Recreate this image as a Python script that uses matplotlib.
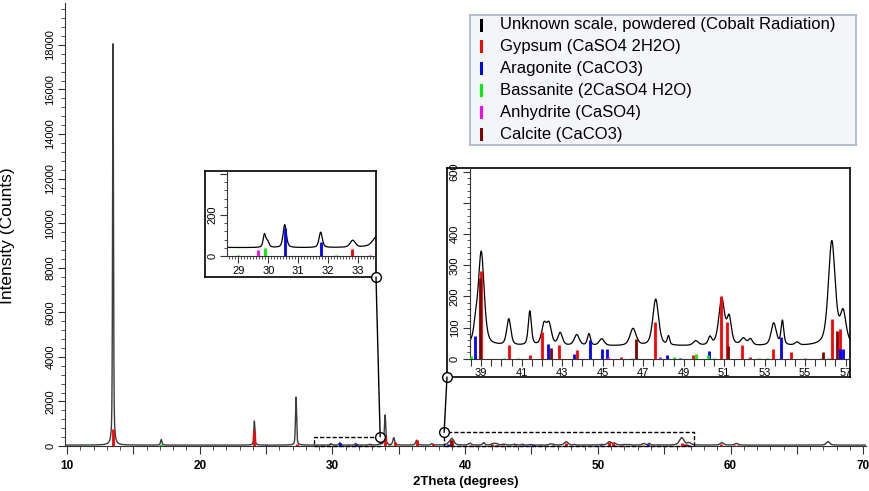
import numpy as np
import matplotlib
matplotlib.use("Agg")
import matplotlib.pyplot as plt
from matplotlib.ticker import MultipleLocator, FuncFormatter
from matplotlib.patches import Rectangle, ConnectionPatch

plt.rcParams['font.family'] = ['Liberation Sans', 'DejaVu Sans']

W, H = 869, 491

peak_pos = [13.47, 17.1, 24.12, 27.26, 29.87, 29.97, 30.55, 31.75, 32.82, 33.6, 33.97,
            34.62, 36.35, 37.5, 38.72, 39.0, 40.36, 41.4, 42.1, 42.35, 42.9,
            43.72, 44.32, 44.95, 46.5, 47.62, 48.25, 49.6, 50.3, 50.88, 51.25,
            51.95, 52.3, 53.45, 53.88, 54.6, 56.32, 56.88, 59.35, 60.45, 67.35]
peak_height = [18050, 250, 1080, 2150, 62, 30, 112, 75, 34, 35, 1350,
               330, 220, 60, 50, 300, 85, 110, 65, 65, 40,
               35, 38, 22, 55, 150, 28, 15, 25, 150, 85,
               22, 20, 72, 78, 10, 335, 100, 110, 70, 160]
peak_hwhm = [0.04, 0.06, 0.05, 0.05, 0.05, 0.06, 0.065, 0.065, 0.1, 0.15, 0.06,
             0.08, 0.09, 0.1, 0.12, 0.17, 0.12, 0.09, 0.14, 0.14, 0.13,
             0.15, 0.09, 0.15, 0.18, 0.17, 0.07, 0.15, 0.1, 0.17, 0.13,
             0.15, 0.12, 0.15, 0.08, 0.12, 0.2, 0.17, 0.14, 0.16, 0.15]
background = 40
lorentz_share = 0.5

# reference patterns (stick positions and heights)
phase_names = ["Unknown scale, powdered (Cobalt Radiation)", "Gypsum (CaSO4 2H2O)",
               "Aragonite (CaCO3)", "Bassanite (2CaSO4 H2O)", "Anhydrite (CaSO4)",
               "Calcite (CaCO3)"]
phase_colors = ["#000000", "#ff0000", "#0000ff", "#00ee00", "#ff00ff", "#800000"]

gypsum_pos = [13.47, 24.12, 27.3, 32.8, 33.97, 34.75, 36.35, 37.6, 39.0, 40.35,
              41.4, 42.0, 42.85, 43.75, 45.9, 47.6, 49.45, 50.85, 51.15, 51.9,
              52.3, 53.4, 54.3, 56.35, 56.75, 59.3, 60.3, 60.55, 62.0, 63.9, 66.3, 68.2]
gypsum_h = [750, 720, 110, 34, 480, 180, 260, 70, 282, 45,
            12, 87, 45, 28, 5, 118, 12, 200, 118, 44,
            5, 30, 22, 127, 94, 100, 60, 60, 15, 10, 15, 12]
aragonite_pos = [25.0, 26.5, 30.55, 31.75, 38.7, 42.3, 43.6, 44.35, 44.95, 45.2,
                 48.2, 48.8, 50.25, 53.8, 56.75, 56.85, 59.7, 61.0, 63.0, 66.5, 67.4]
aragonite_h = [25, 20, 135, 70, 74, 47, 14, 60, 30, 30,
               12, 2, 23, 71, 30, 30, 15, 10, 10, 12, 15]
bassanite_pos = [11.7, 16.2, 17.1, 23.7, 26.0, 29.0, 29.9, 32.25, 34.4, 36.8,
                 38.5, 40.1, 40.8, 46.45, 48.5, 49.6, 50.2, 50.5, 52.7, 53.1,
                 55.8, 56.2, 58.8, 62.5, 64.5, 65.6, 69.0]
bassanite_h = [25, 20, 110, 20, 15, 3, 40, 3, 30, 15,
               7, 2, 2, 3, 4, 16, 11, 2, 2, 2,
               2, 3, 10, 15, 12, 15, 10]
anhydrite_pos = [22.3, 26.8, 29.65, 33.4, 45.25, 47.85, 55.0, 61.3, 67.0, 68.8]
anhydrite_h = [15, 20, 29, 3, 4, 4, 2, 10, 10, 10]
calcite_pos = [34.3, 38.92, 42.45, 46.65, 51.2, 55.9, 56.6, 58.0, 61.5]
calcite_h = [40, 260, 33, 63, 40, 20, 90, 12, 8]

sticks = [(gypsum_pos, gypsum_h), (aragonite_pos, aragonite_h),
          (bassanite_pos, bassanite_h), (anhydrite_pos, anhydrite_h),
          (calcite_pos, calcite_h)]

# rebuild the scan from the peak list (pseudo-Voigt profiles on a flat background)
two_theta = np.arange(9.8, 70.3, 0.004)
counts = np.full_like(two_theta, background, dtype=float)
for p, h, w in zip(peak_pos, peak_height, peak_hwhm):
    u = (two_theta - p) / w
    counts += h * (lorentz_share / (1 + u ** 2) + (1 - lorentz_share) * np.exp(-np.log(2) * u ** 2))


def px_axes(fig, x0, y0, x1, y1, **kw):
    return fig.add_axes([x0 / W, 1 - y1 / H, (x1 - x0) / W, (y1 - y0) / H], **kw)


def draw_pattern(ax, line_color, lw):
    ax.plot(two_theta, counts, color=line_color, lw=lw, zorder=2)
    for (pos, hh), c in zip(sticks, phase_colors[1:]):
        ax.vlines(pos, 0, hh, color=c, lw=2.0, zorder=3)


def style_axes(ax):
    for s in ("top", "right"):
        ax.spines[s].set_visible(False)
    for s in ("left", "bottom"):
        ax.spines[s].set_color("#333333")
    ax.tick_params(which="both", direction="out", colors="#333333", labelcolor="black")


fig = plt.figure(figsize=(W / 100, H / 100), dpi=100)

# ---- main chart
ax = px_axes(fig, 65, 3, 866, 446)
draw_pattern(ax, "#3c3c3c", 1.0)
ax.set_xlim(9.85, 70.21)
ax.set_ylim(0, 19880)
style_axes(ax)
ax.xaxis.set_major_locator(MultipleLocator(5))
ax.xaxis.set_minor_locator(MultipleLocator(1))
ax.xaxis.set_major_formatter(FuncFormatter(lambda v, p: f"{v:.0f}" if round(v) % 10 == 0 else ""))
ax.yaxis.set_major_locator(MultipleLocator(2000))
ax.yaxis.set_minor_locator(MultipleLocator(400))
ax.tick_params(axis="x", which="major", length=6, labelsize=8.5, pad=4)
ax.tick_params(axis="x", which="minor", length=3)
ax.tick_params(axis="y", which="major", length=5, labelsize=8, pad=2)
ax.tick_params(axis="y", which="minor", length=3)
for t in ax.get_xticklabels():
    t.set_fontweight("bold")
for t in ax.get_yticklabels():
    t.set_rotation(90)
    t.set_va("center")
ax.set_xlabel("2Theta (degrees)", fontsize=9.5, fontweight="bold", labelpad=3)
ax.set_ylabel("Intensity (Counts)", fontsize=12.5)
ax.yaxis.set_label_coords(-0.062, 0.475)

# ---- insets: x range, y top, frame px box, inner axes px box
inset_specs = [
    dict(xlim=(28.62, 33.6), ytop=415, frame=(205, 171, 376, 277), inner=(227, 171, 376, 256),
         xmaj=1, xmin=0.1, xlab=1, yticks=[0, 200], ymin=40, corner=(1, 0), rect_corner="right"),
    dict(xlim=(38.42, 57.22), ytop=613, frame=(447, 168, 850, 377), inner=(469.5, 168, 850, 358.6),
         xmaj=0.5, xmin=None, xlab=2, yticks=[0, 100, 200, 300, 400, 600], ymin=20, corner=(0, 0),
         rect_corner="left"),
]

for spec in inset_specs:
    x0, x1 = spec["xlim"]
    ax.add_patch(Rectangle((x0, 0), x1 - x0, spec["ytop"], fill=False, ec="black",
                           lw=1.0, ls=(0, (3, 1.5)), zorder=4, clip_on=False))

    fr = px_axes(fig, *spec["frame"])
    fr.set_xticks([])
    fr.set_yticks([])
    for s in fr.spines.values():
        s.set_color("black")
        s.set_linewidth(1.2)

    ia = px_axes(fig, *spec["inner"])
    ia.patch.set_alpha(0)
    draw_pattern(ia, "black", 0.9)
    ia.set_xlim(x0, x1)
    ia.set_ylim(0, spec["ytop"])
    style_axes(ia)
    ia.xaxis.set_major_locator(MultipleLocator(spec["xmaj"]))
    if spec["xmin"]:
        ia.xaxis.set_minor_locator(MultipleLocator(spec["xmin"]))
    lab_step = spec["xlab"]
    ia.xaxis.set_major_formatter(FuncFormatter(
        lambda v, p, s=lab_step: f"{v:.0f}" if abs(v - round(v)) < 1e-6 and round(v) % s == (1 % s) else ""))
    yt = spec["yticks"]
    ia.yaxis.set_major_locator(MultipleLocator(100 if len(yt) > 2 else 200))
    ia.yaxis.set_minor_locator(MultipleLocator(spec["ymin"]))
    ia.yaxis.set_major_formatter(FuncFormatter(lambda v, p, yt=yt: f"{v:.0f}" if round(v) in yt else ""))
    ia.tick_params(which="major", length=5, labelsize=8, pad=2)
    ia.tick_params(which="minor", length=2.5)
    for t in ia.get_yticklabels():
        t.set_rotation(90)
        t.set_va("center")

    # connector from the dashed box in the main chart to the inset frame
    cx = x1 if spec["rect_corner"] == "right" else x0
    con = ConnectionPatch(xyA=(cx, spec["ytop"]), coordsA=ax.transData,
                          xyB=spec["corner"], coordsB=fr.transAxes,
                          color="black", lw=1.0, zorder=5)
    fig.add_artist(con)
    ax.plot([cx], [spec["ytop"]], "o", ms=7, mfc="white", mec="black", mew=1.0,
            clip_on=False, zorder=6)
    fr.plot([spec["corner"][0]], [spec["corner"][1]], "o", ms=7, mfc="white", mec="black",
            mew=1.0, transform=fr.transAxes, clip_on=False, zorder=6)

# ---- legend box
lg = px_axes(fig, 470, 15, 856, 145)
lg.set_facecolor("#f4f5f8")
lg.set_xticks([])
lg.set_yticks([])
for s in lg.spines.values():
    s.set_color("#a8b4c8")
    s.set_linewidth(1.2)
lg.set_xlim(470, 856)
lg.set_ylim(145, 15)
for i, (name, c) in enumerate(zip(phase_names, phase_colors)):
    y = 25 + i * 21.9
    lg.add_patch(Rectangle((479.7, y - 6.5), 3.4, 13, color=c, lw=0))
    lg.text(500, y, name, fontsize=12, va="center", ha="left", color="black")

fig.savefig("out.png", dpi=100)
